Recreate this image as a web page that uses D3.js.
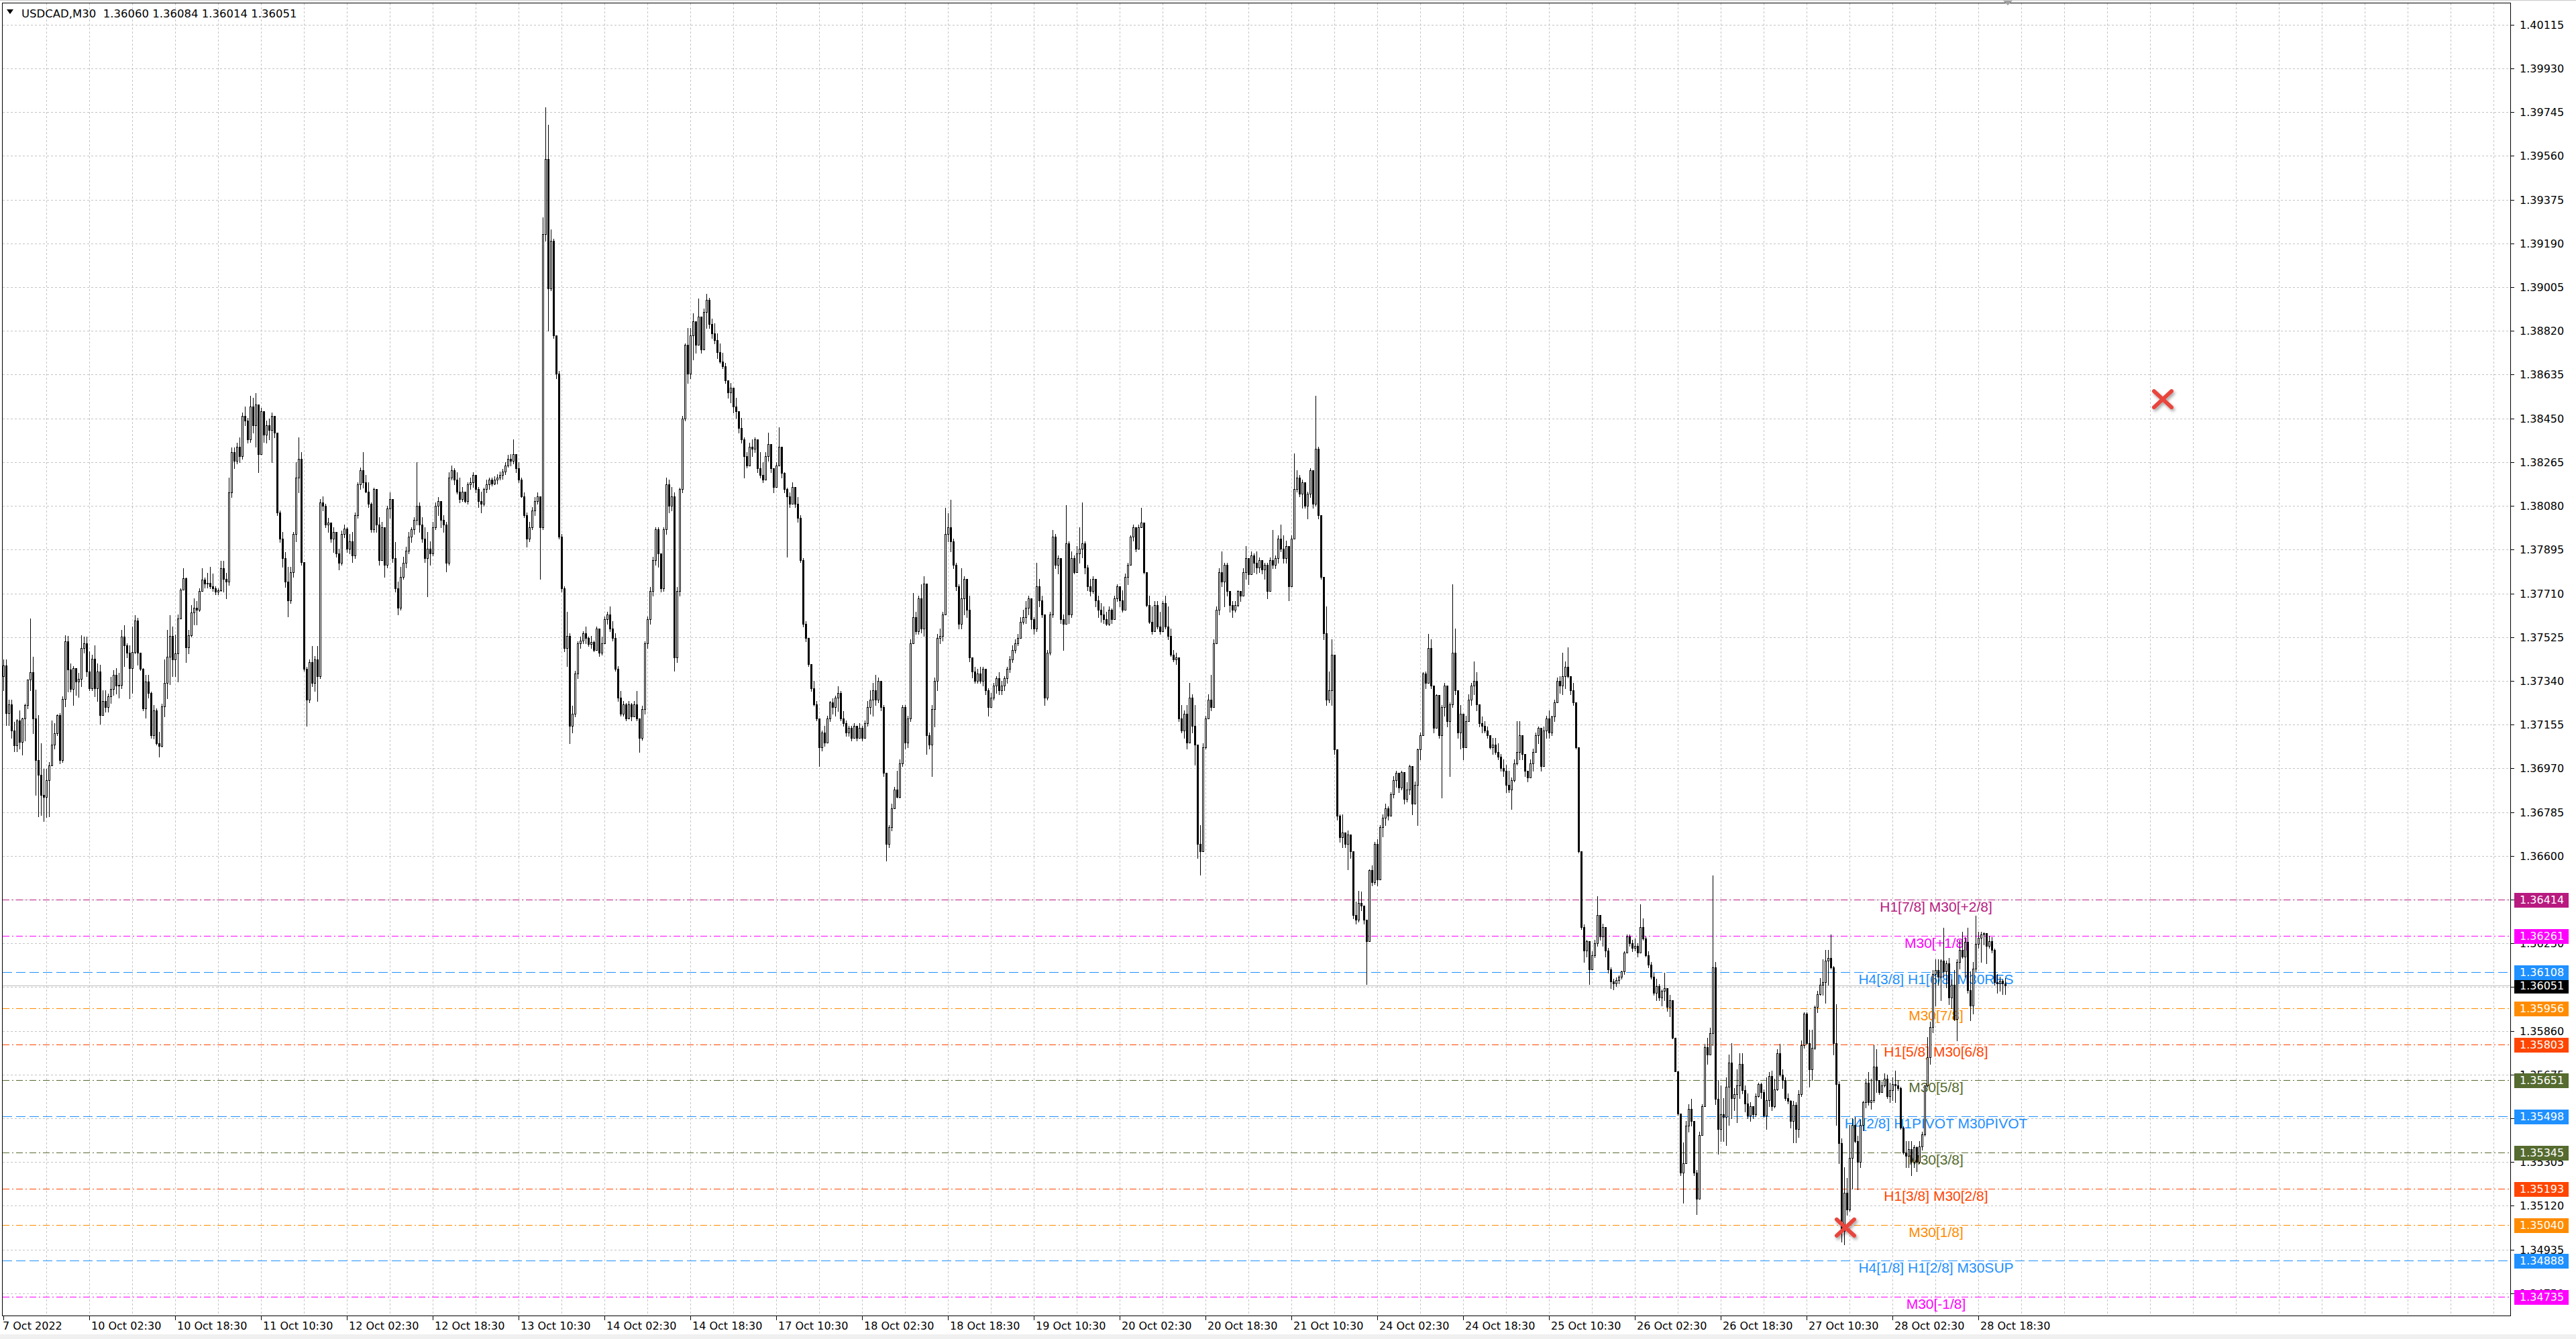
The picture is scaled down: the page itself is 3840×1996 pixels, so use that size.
<!DOCTYPE html>
<html><head><meta charset="utf-8">
<script src="https://cdn.jsdelivr.net/npm/d3@7"></script>
<style>
html,body{margin:0;padding:0;background:#fff;overflow:hidden;}
svg{display:block;}
text{font-family:"DejaVu Sans",sans-serif;}
</style></head><body>
<svg id="chart" width="3840" height="1996"></svg>
<script>
// ---------------- DATA ----------------
const symbolTitle = "USDCAD,M30";
const quoteOHLC = [1.36060,1.36084,1.36014,1.36051];
const PRICE_BASE = 1.3, POINT = 0.00001;   // stored value v -> price 1.3 + v*0.00001
const firstOpen = 7361;
const closes = [
7404,7204,7240,7129,7067,7171,7081,7181,7238,7345,7377,7180,7005,6943,6858,6848,6920,6982,7071,7119,
7195,7005,7264,7506,7389,7307,7394,7337,7347,7480,7500,7380,7310,7434,7310,7380,7195,7254,7230,7275,
7306,7365,7320,7322,7527,7489,7460,7395,7463,7594,7458,7390,7223,7337,7290,7110,7216,7076,7064,7233,
7332,7443,7529,7432,7455,7603,7725,7775,7481,7532,7630,7648,7641,7721,7769,7750,7755,7740,7730,7717,
7722,7816,7770,7759,8137,8306,8270,8330,8290,8460,8440,8360,8500,8420,8510,8300,8480,8380,8420,8400,
8460,8390,8053,7940,7860,7760,7680,7800,7960,8200,8280,7843,7390,7260,7420,7330,7430,7360,8095,8080,
8000,8010,7940,7970,7880,7840,7960,7985,7900,7930,7870,8040,8170,8230,8180,8140,8090,7980,8150,8000,
7850,7990,7830,8070,8110,7860,7730,7650,7780,7840,7890,7950,7980,8020,8080,8000,7940,7860,7900,7880,
7990,8080,8100,8020,8000,7840,8200,8230,8190,8140,8110,8140,8100,8170,8180,8210,8150,8100,8090,8150,
8170,8190,8175,8190,8200,8210,8225,8250,8280,8270,8300,8240,8190,8120,8040,7940,7990,8060,8100,8120,
7990,9230,9546,9000,9200,8800,8640,7950,7730,7480,7530,7150,7200,7370,7500,7510,7540,7520,7495,7505,
7470,7560,7460,7500,7600,7620,7560,7520,7390,7270,7200,7240,7180,7240,7190,7240,7180,7100,7220,7500,
7600,7720,7850,7980,7880,7730,7980,8170,8080,8120,7440,7720,8150,8450,8760,8640,8800,8860,8760,8880,
8740,8900,8950,8850,8810,8780,8730,8690,8670,8610,8560,8580,8500,8480,8410,8360,8290,8250,8330,8320,
8360,8240,8210,8190,8290,8340,8240,8160,8250,8330,8220,8150,8120,8090,8160,8090,8030,7850,7580,7520,
7410,7310,7240,7180,7060,7120,7080,7180,7250,7230,7270,7290,7180,7160,7120,7140,7100,7150,7100,7140,
7100,7160,7230,7260,7300,7260,7340,7230,6950,6650,6720,6800,6880,6850,6990,7230,7080,7180,7500,7610,
7550,7690,7560,7750,7110,7070,7220,7340,7520,7530,7620,7960,7990,7930,7830,7740,7580,7690,7770,7640,
7440,7380,7340,7370,7340,7390,7300,7230,7270,7320,7350,7300,7320,7350,7390,7430,7470,7500,7520,7590,
7610,7650,7690,7600,7560,7740,7680,7620,7270,7460,7620,7950,7830,7860,7600,7580,7920,7620,7860,7800,
7880,7900,7920,7820,7740,7720,7770,7680,7640,7620,7600,7580,7640,7600,7690,7740,7680,7640,7780,7830,
7950,7990,7900,7990,8010,7800,7660,7590,7550,7660,7570,7550,7670,7570,7530,7450,7430,7440,7180,7130,
7200,7080,7270,7150,7070,6650,6620,7060,7180,7260,7230,7500,7640,7800,7760,7830,7720,7660,7640,7660,
7720,7700,7800,7860,7790,7870,7840,7820,7850,7810,7830,7720,7850,7830,7860,7940,7900,7860,7910,7740,
7940,8150,8200,8130,8180,8080,8130,8230,8090,8320,8040,7780,7540,7260,7300,7450,7050,6770,6680,6700,
6650,6690,6620,6350,6330,6400,6390,6330,6240,6540,6490,6650,6500,6720,6760,6800,6770,6860,6920,6950,
6890,6955,6840,6880,6980,6820,6900,7050,7110,7370,7330,7480,7320,7140,7280,7110,7230,7320,7170,7240,
7460,7300,7120,7200,7060,7170,7260,7320,7340,7240,7160,7150,7130,7110,7060,7070,7040,7020,6970,6960,
6900,6880,6920,6990,7040,7110,7030,6960,6930,6990,7040,7110,7140,6980,7130,7180,7120,7190,7250,7340,
7320,7360,7400,7360,7300,7250,7060,6620,6300,6200,6240,6120,6180,6230,6350,6260,6300,6200,6120,6070,
6060,6075,6090,6110,6190,6260,6230,6210,6220,6190,6300,6250,6180,6140,6090,6020,6050,6000,6030,6040,
5960,5990,5830,5690,5510,5260,5300,5460,5530,5480,5260,5150,5420,5540,5790,5760,5850,6128,5573,5445,
5507,5496,5624,5725,5574,5591,5630,5720,5608,5552,5501,5540,5507,5585,5636,5602,5501,5568,5669,5540,
5613,5764,5675,5652,5574,5563,5479,5546,5445,5591,5798,5932,5809,5697,5787,5960,6016,6056,6067,6156,
6168,6128,5809,5636,5384,5014,5176,5104,5322,5462,5395,5305,5462,5557,5641,5557,5568,5708,5652,5602,
5630,5658,5585,5610,5636,5630,5619,5451,5344,5330,5360,5305,5367,5305,5372,5423,5630,5748,5876,6100,
6117,6089,6156,6112,6145,6000,6056,5910,6151,6201,6173,6235,6033,5966,6123,6229,6252,6268,6274,6218,
6240,6201,6067,6061,6072,6060,6051];
const highs = [
7432,7432,7261,7261,7166,7178,7214,7185,7242,7346,7603,7441,7304,7195,7076,6967,6967,6996,7171,7161,
7199,7204,7275,7534,7531,7413,7403,7394,7375,7534,7527,7527,7465,7451,7489,7413,7408,7299,7299,7285,
7356,7384,7394,7375,7555,7575,7500,7489,7569,7617,7607,7460,7394,7365,7365,7294,7237,7223,7124,7242,
7432,7555,7617,7569,7536,7622,7730,7816,7778,7555,7661,7688,7678,7730,7816,7778,7797,7821,7794,7740,
7730,7849,7849,7797,8200,8327,8327,8348,8369,8474,8500,8453,8545,8537,8558,8474,8495,8470,8440,8450,
8474,8460,8390,8060,7969,7885,7822,7822,7969,8264,8369,8306,7843,7400,7430,7486,7444,7486,8110,8120,
8090,8030,8010,7990,7970,7900,7975,8000,7990,7960,7969,8053,8179,8243,8306,8210,8179,8095,8158,8150,
8032,8011,7990,8080,8137,8110,7927,7759,7822,7864,7906,7969,7990,8032,8264,8095,8032,7990,7969,7930,
8011,8095,8116,8100,8040,8011,8221,8250,8240,8221,8200,8160,8140,8179,8200,8221,8210,8160,8140,8158,
8190,8200,8200,8205,8215,8225,8235,8264,8295,8300,8360,8300,8264,8200,8137,8053,8011,8074,8116,8137,
8120,9300,9766,9693,9250,9210,8800,8650,7960,7740,7633,7540,7234,7381,7507,7528,7549,7570,7528,7530,
7510,7570,7549,7528,7612,7633,7654,7591,7540,7402,7297,7255,7245,7255,7245,7255,7297,7180,7234,7507,
7612,7738,7864,7990,7990,7880,7990,8200,8190,8160,8137,7738,8158,8460,8768,8831,8831,8894,8852,8957,
8873,8915,8978,8960,8873,8852,8810,8768,8726,8684,8600,8600,8558,8537,8474,8453,8369,8306,8348,8360,
8369,8348,8306,8264,8306,8390,8306,8221,8264,8411,8306,8221,8158,8137,8179,8158,8116,8040,7860,7591,
7520,7410,7339,7255,7180,7129,7150,7192,7255,7265,7276,7318,7297,7213,7171,7150,7150,7160,7150,7160,
7150,7171,7255,7300,7331,7365,7354,7340,7238,6950,6729,6822,6891,6961,7007,7238,7238,7192,7516,7712,
7631,7701,7747,7782,7750,7120,7238,7354,7539,7560,7631,8071,8050,8106,7940,7840,7747,7816,7782,7770,
7701,7440,7400,7390,7400,7400,7390,7310,7290,7331,7360,7377,7340,7360,7400,7446,7490,7516,7539,7608,
7640,7678,7701,7690,7610,7840,7770,7701,7620,7469,7631,7978,7960,7870,7860,7620,8082,7930,7886,7870,
7909,7990,8094,7930,7830,7770,7782,7770,7701,7670,7655,7631,7655,7645,7701,7747,7740,7724,7793,7840,
7955,8001,7990,8001,8071,8010,7800,7701,7655,7678,7678,7631,7678,7701,7655,7562,7469,7460,7440,7238,
7215,7238,7331,7284,7238,7070,6729,7076,7192,7284,7365,7516,7655,7816,7886,7840,7840,7720,7678,7678,
7724,7720,7816,7909,7860,7886,7880,7886,7863,7850,7840,7840,7863,7978,7870,7955,8001,7955,7932,7910,
7955,8302,8230,8210,8190,8180,8140,8240,8230,8545,8330,8040,7780,7655,7380,7516,7450,7050,6775,6775,
6700,6706,6690,6620,6406,6452,6450,6390,6330,6544,6560,6660,6670,6729,6775,6822,6810,6868,6937,6961,
6950,6961,6955,6910,6984,6980,6914,7053,7122,7377,7380,7539,7516,7320,7284,7280,7238,7331,7320,7250,
7747,7562,7300,7238,7200,7192,7284,7331,7423,7377,7240,7190,7169,7146,7110,7099,7099,7076,7030,7007,
6984,6961,6930,7007,7169,7169,7110,7030,6961,7007,7053,7122,7146,7140,7146,7192,7215,7192,7261,7354,
7360,7458,7423,7481,7360,7331,7250,7060,6620,6310,6244,6240,6197,6244,6429,6350,6313,6300,6210,6128,
6081,6085,6095,6115,6197,6267,6267,6244,6250,6230,6394,6336,6260,6197,6151,6105,6081,6058,6035,6105,
6040,6012,5990,5830,5690,5510,5388,5480,5550,5573,5480,5272,5434,5550,5804,5830,5873,6516,6150,5653,
5630,5574,5664,5759,5809,5619,5697,5764,5764,5630,5596,5557,5540,5596,5641,5641,5613,5664,5686,5692,
5658,5781,5804,5697,5664,5596,5568,5563,5557,5608,5820,5938,5938,5865,5865,5966,6028,6084,6162,6201,
6201,6268,6134,5972,5647,5406,5283,5238,5462,5490,5496,5417,5485,5563,5658,5686,5658,5798,5781,5647,
5647,5680,5675,5641,5664,5692,5652,5624,5456,5395,5395,5395,5378,5372,5395,5434,5630,5832,5899,6117,
6162,6162,6162,6296,6156,6168,6078,6117,6162,6246,6280,6257,6296,6112,6151,6347,6280,6280,6277,6274,
6263,6257,6207,6100,6089,6078,6084];
const lows = [
7300,7152,7152,7100,7043,7043,7052,7029,7086,7223,7300,7119,6858,6768,6772,6747,6764,6768,6981,7052,
7109,6991,6996,7233,7294,7294,7237,7280,7271,7318,7460,7361,7299,7299,7275,7256,7157,7195,7209,7209,
7247,7280,7285,7270,7310,7403,7440,7266,7290,7455,7408,7385,7214,7185,7270,7100,7095,7071,7019,7062,
7190,7266,7327,7361,7361,7337,7603,7725,7418,7455,7527,7579,7579,7636,7721,7735,7735,7730,7721,7707,
7707,7721,7716,7688,7745,8116,8240,8260,8264,8280,8420,8348,8350,8390,8330,8221,8300,8350,8348,8360,
8264,8369,8040,7927,7822,7738,7612,7670,7780,7930,8137,7830,7381,7150,7250,7318,7297,7255,7350,8060,
7990,7969,7927,7885,7864,7810,7830,7948,7885,7880,7843,7860,8030,8150,8158,8137,8074,7969,7970,7969,
7830,7850,7780,7820,8030,7843,7717,7620,7640,7770,7820,7880,7927,7960,8000,7969,7927,7843,7696,7830,
7870,7980,8040,7990,7969,7801,7830,8190,8170,8130,8095,8100,8095,8090,8150,8160,8137,8074,8053,8080,
8137,8150,8165,8170,8175,8190,8195,8215,8245,8250,8260,8221,8179,8116,8032,7906,7930,7980,8040,8090,
7770,7980,9200,8820,8990,8789,8620,7940,7717,7465,7402,7075,7120,7190,7350,7480,7500,7500,7486,7480,
7465,7470,7444,7450,7510,7580,7549,7510,7381,7255,7192,7192,7171,7180,7171,7190,7171,7040,7090,7200,
7480,7580,7700,7830,7822,7717,7720,7960,8053,8060,7381,7420,7700,8137,8440,8600,8620,8700,8726,8760,
8726,8740,8831,8831,8789,8768,8705,8684,8663,8600,8537,8516,8474,8453,8390,8348,8200,8243,8250,8290,
8306,8221,8200,8179,8190,8270,8221,8137,8160,8250,8200,8137,7864,8074,8090,8074,8011,7843,7570,7507,
7402,7297,7234,7171,6980,7044,7065,7080,7170,7200,7192,7213,7171,7150,7107,7107,7086,7120,7086,7100,
7086,7100,7150,7200,7192,7238,7250,7215,6937,6580,6637,6706,6800,6845,6845,6980,7053,7060,7170,7500,
7539,7539,7545,7530,7030,7053,6937,7146,7300,7500,7510,7620,7930,7886,7816,7724,7562,7562,7620,7608,
7423,7354,7331,7331,7331,7320,7284,7192,7230,7260,7290,7284,7284,7300,7330,7377,7420,7460,7490,7520,
7580,7585,7620,7562,7539,7550,7655,7608,7238,7261,7450,7610,7816,7793,7585,7469,7580,7585,7610,7793,
7800,7840,7863,7793,7724,7701,7712,7655,7608,7590,7585,7574,7574,7585,7600,7678,7655,7631,7640,7747,
7830,7932,7886,7900,7990,7793,7655,7585,7539,7550,7562,7539,7550,7562,7516,7446,7423,7410,7169,7122,
7099,7053,7080,7122,6984,6590,6521,6620,7053,7180,7215,7230,7500,7620,7740,7655,7701,7631,7608,7631,
7655,7678,7700,7770,7747,7790,7800,7793,7800,7793,7770,7690,7720,7816,7816,7840,7886,7840,7840,7680,
7740,7940,8140,8120,8071,8071,8025,8117,8071,8080,8025,7770,7516,7238,7250,7238,7030,6752,6660,6637,
6637,6544,6590,6336,6313,6320,6370,6313,6058,6240,6475,6480,6475,6500,6683,6729,6752,6770,6845,6891,
6868,6880,6822,6830,6860,6775,6820,6729,7007,7110,7308,7330,7308,7122,7140,7099,6845,7192,7146,6937,
7230,7284,7099,7053,7007,7060,7169,7238,7284,7215,7146,7120,7122,7099,7053,7030,7030,7007,6961,6937,
6868,6868,6799,6914,6984,7007,7007,6937,6914,6930,6961,7040,7076,6961,6980,7099,7099,7110,7169,7250,
7290,7284,7308,7354,7284,7238,7053,6614,6290,6151,6174,6058,6120,6170,6220,6244,6220,6174,6105,6040,
6035,6050,6060,6080,6100,6190,6220,6197,6200,6174,6190,6244,6174,6128,6081,6012,5989,5989,5966,5989,
5943,5920,5827,5688,5503,5249,5133,5300,5434,5460,5249,5083,5150,5420,5540,5720,5760,5800,5550,5339,
5395,5395,5378,5462,5490,5524,5473,5574,5596,5518,5490,5479,5490,5500,5580,5574,5496,5445,5540,5524,
5535,5608,5669,5619,5568,5552,5451,5389,5389,5412,5585,5787,5804,5624,5652,5781,5938,6011,6011,5977,
6056,6123,5759,5462,5300,4969,4958,5081,5098,5193,5389,5188,5283,5440,5535,5546,5529,5557,5602,5591,
5602,5624,5574,5557,5568,5557,5610,5445,5339,5283,5283,5249,5283,5266,5300,5356,5417,5624,5720,5854,
5966,6056,5988,6089,6044,5972,5955,5904,5820,6123,6168,6089,6022,5904,5932,6112,6212,6151,6224,6145,
6212,6190,6056,6022,6028,6016,6014];

const yTicks = [1.40115,1.39930,1.39745,1.39560,1.39375,1.39190,1.39005,1.38820,1.38635,1.38450,
  1.38265,1.38080,1.37895,1.37710,1.37525,1.37340,1.37155,1.36970,1.36785,1.36600,
  1.36415,1.36230,1.36045,1.35860,1.35675,1.35490,1.35305,1.35120,1.34935,1.34750];
const xTickBars = [0,32,64,96,128,160,192,224,256,288,320,352,384,416,448,480,512,544,576,608,640,672,704,736];
const xTickLabels = ["7 Oct 2022","10 Oct 02:30","10 Oct 18:30","11 Oct 10:30","12 Oct 02:30","12 Oct 18:30",
  "13 Oct 10:30","14 Oct 02:30","14 Oct 18:30","17 Oct 10:30","18 Oct 02:30","18 Oct 18:30","19 Oct 10:30",
  "20 Oct 02:30","20 Oct 18:30","21 Oct 10:30","24 Oct 02:30","24 Oct 18:30","25 Oct 10:30","26 Oct 02:30",
  "26 Oct 18:30","27 Oct 10:30","28 Oct 02:30","28 Oct 18:30"];

const levelPrices = [1.36414,1.36261,1.36108,1.35956,1.35803,1.35651,1.35498,1.35345,1.35193,1.35040,1.34888,1.34735];
const levelNames = ["H1[7/8] M30[+2/8]","M30[+1/8]","H4[3/8] H1[6/8] M30RES","M30[7/8]","H1[5/8] M30[6/8]",
  "M30[5/8]","H4[2/8] H1PIVOT M30PIVOT","M30[3/8]","H1[3/8] M30[2/8]","M30[1/8]","H4[1/8] H1[2/8] M30SUP","M30[-1/8]"];
const levelLabelBar = 720.25;           // where the level names are centred (bar index)
const markBars = [686.5, 804.75];       // red cross objects
const markPrices = [1.35028, 1.38531];

// ---------------- STYLE ----------------
const levelColors = ["#B81A80","#FF00FF","#1E90FF","#FF8C00","#FF4500","#556B2F","#1E90FF","#556B2F","#FF4500","#FF8C00","#1E90FF","#FF00FF"];
const levelDash   = ["dd","dd","dash","dd","dd","dd","dash","dd","dd","dd","dash","dd"];
const DASH = {dd:"10,4,2,4", dash:"14,6"};

if (highs.length !== closes.length || lows.length !== closes.length) throw new Error("length mismatch "+closes.length+" "+highs.length+" "+lows.length);

// ---------------- CHART ----------------
const svg = d3.select("#chart");
const P = {left:3.5, top:4.5, right:3742.5, bottom:1961.5};
const x = d3.scaleLinear().domain([0, 934.25]).range([5, 3742]);
const y = d3.scaleLinear().domain([1.34656, 1.40208]).range([1961, 4]);
const px = v => Math.round(v) + 0.5;

svg.append("rect").attr("width",3840).attr("height",1996).attr("fill","#fff");
svg.append("rect").attr("x",0).attr("y",1989).attr("width",3840).attr("height",7).attr("fill","#f0f0f0");
svg.append("line").attr("x1",0).attr("x2",3840).attr("y1",0.5).attr("y2",0.5).attr("stroke","#c8c8c8");

const bars = closes.map((c, i) => {
  const o = i ? closes[i-1] : firstOpen;
  return {i,
    o: PRICE_BASE + o*POINT, c: PRICE_BASE + c*POINT,
    h: PRICE_BASE + Math.max(highs[i], o, c)*POINT,
    l: PRICE_BASE + Math.min(lows[i], o, c)*POINT};
});

// grid
const grid = svg.append("g").attr("stroke","#c4c4c4").attr("stroke-dasharray","3,3").attr("shape-rendering","crispEdges");
grid.selectAll("line.h").data(yTicks).join("line")
  .attr("x1",P.left).attr("x2",P.right).attr("y1",d=>px(y(d))).attr("y2",d=>px(y(d)));
grid.selectAll("line.v").data(d3.range(16, 934, 16)).join("line")
  .attr("x1",d=>px(x(d))).attr("x2",d=>px(x(d))).attr("y1",P.top).attr("y2",P.bottom);

// level lines
const lv = svg.append("g").attr("shape-rendering","crispEdges");
lv.selectAll("line").data(levelPrices).join("line")
  .attr("x1",P.left).attr("x2",P.right)
  .attr("y1",d=>px(y(d))).attr("y2",d=>px(y(d)))
  .attr("stroke",(d,i)=>levelColors[i]).attr("stroke-dasharray",(d,i)=>DASH[levelDash[i]]);

// bid line
const lastClose = bars[bars.length-1].c;
svg.append("line").attr("x1",P.left).attr("x2",P.right).attr("y1",px(y(lastClose))).attr("y2",px(y(lastClose)))
  .attr("stroke","#c0c0c0").attr("shape-rendering","crispEdges");

// level names
svg.append("g").selectAll("text").data(levelPrices).join("text")
  .attr("x", x(levelLabelBar)).attr("y", d=>y(d)+18).attr("text-anchor","middle")
  .attr("fill",(d,i)=>levelColors[i]).style("font-family","'Liberation Sans',Arial,sans-serif").style("font-size","21px")
  .text((d,i)=>levelNames[i]);

// candles
const gc = svg.append("g").attr("shape-rendering","crispEdges");
gc.selectAll("line").data(bars).join("line")
  .attr("x1",d=>px(x(d.i))).attr("x2",d=>px(x(d.i)))
  .attr("y1",d=>Math.round(y(d.h))).attr("y2",d=>Math.round(y(d.l))+1).attr("stroke","#000");
gc.selectAll("rect").data(bars).join("rect")
  .each(function(d){
    const cx = Math.round(x(d.i));
    const yt = Math.round(y(Math.max(d.o,d.c))), yb = Math.round(y(Math.min(d.o,d.c)));
    const s = d3.select(this);
    if (d.c > d.o && yb - yt >= 2) {
      s.attr("x",cx-0.5).attr("y",yt+0.5).attr("width",2).attr("height",yb-yt)
       .attr("fill","#fff").attr("stroke","#000");
    } else {
      s.attr("x",cx-1).attr("y",yt).attr("width",3).attr("height",Math.max(1,yb-yt+1)).attr("fill","#000");
    }
  });

// red crosses
const defs = svg.append("defs");
const f = defs.append("filter").attr("id","sh").attr("x","-50%").attr("y","-50%").attr("width","200%").attr("height","200%");
f.append("feDropShadow").attr("dx",2).attr("dy",3).attr("stdDeviation",2).attr("flood-color","#000").attr("flood-opacity",0.35);
const gm = svg.append("g").selectAll("g").data(markBars).join("g")
  .attr("transform",(d,i)=>`translate(${x(d)},${y(markPrices[i])})`).attr("filter","url(#sh)");
gm.append("path").attr("d","M-13,-12L13,12M13,-12L-13,12").attr("stroke","#E8453C").attr("stroke-width",6)
  .attr("stroke-linecap","round").attr("fill","none");

// frame
svg.append("rect").attr("x",P.left).attr("y",P.top).attr("width",P.right-P.left).attr("height",P.bottom-P.top)
  .attr("fill","none").attr("stroke","#000").attr("shape-rendering","crispEdges");

// chart shift marker
svg.append("path").attr("d",`M${x(747)-7},1L${x(747)+7},1L${x(747)},8Z`).attr("fill","#a0a0a0");

// y axis
const ya = svg.append("g");
ya.selectAll("line").data(yTicks).join("line").attr("x1",P.right).attr("x2",P.right+5)
  .attr("y1",d=>px(y(d))).attr("y2",d=>px(y(d))).attr("stroke","#000").attr("shape-rendering","crispEdges");
ya.selectAll("text").data(yTicks).join("text").attr("x",3756).attr("y",d=>y(d)+6)
  .style("font-size","16px").attr("fill","#000").text(d=>d3.format(".5f")(d));

// current price box, then level boxes
const boxes = [{p:lastClose, col:"#000"}].concat(levelPrices.map((p,i)=>({p, col:levelColors[i]})));
const gb = svg.append("g").selectAll("g").data(boxes).join("g");
gb.append("rect").attr("x",3748).attr("y",d=>Math.round(y(d.p))-10).attr("width",81).attr("height",22).attr("fill",d=>d.col);
gb.append("text").attr("x",3756).attr("y",d=>y(d.p)+6).style("font-size","16px").attr("fill","#fff")
  .text(d=>d3.format(".5f")(d.p));

// x axis
const xa = svg.append("g");
xa.selectAll("line").data(xTickBars).join("line").attr("x1",d=>px(x(d))).attr("x2",d=>px(x(d)))
  .attr("y1",P.bottom).attr("y2",P.bottom+6).attr("stroke","#000").attr("shape-rendering","crispEdges");
xa.selectAll("text").data(xTickBars).join("text").attr("x",(d,i)=> i===0 ? 4 : x(d)+3).attr("y",1982)
  .style("font-size","16px").attr("fill","#000").text((d,i)=>xTickLabels[i]);

// title
svg.append("path").attr("d","M10,14L20,14L15,21Z").attr("fill","#000");
svg.append("text").attr("x",32).attr("y",26).style("font-size","16.5px").attr("fill","#000")
  .attr("xml:space","preserve")
  .text(`${symbolTitle}  ${quoteOHLC.map(d3.format(".5f")).join(" ")}`);
</script>
</body></html>
